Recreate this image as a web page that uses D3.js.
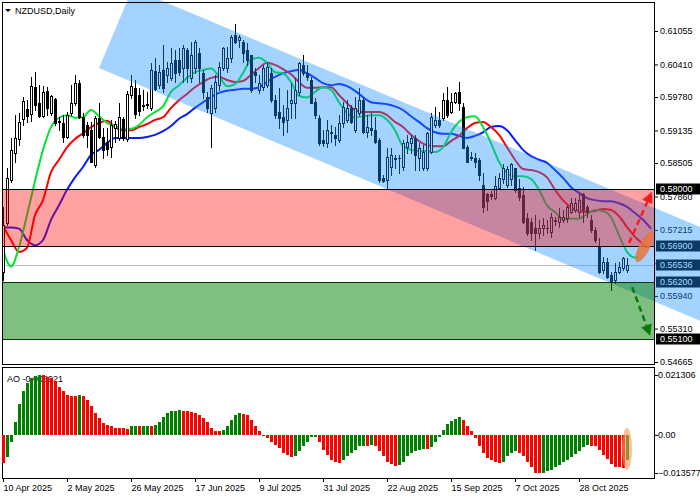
<!DOCTYPE html>
<html>
<head>
<meta charset="utf-8">
<script src="https://cdn.jsdelivr.net/npm/d3@7"></script>
<style>
  body { margin: 0; background: #fff; }
  svg { display: block; }
  text { font-family: "Liberation Sans", Arial, sans-serif; font-size: 9px; }
</style>
</head>
<body>
<svg id="chart" width="700" height="500"></svg>
<script>
// NZDUSD daily candles, 10 Apr 2025 .. mid Nov 2025 (bar index = trading day)
const open = [0.5640,0.5735,0.5818,0.5870,0.5897,0.5936,0.5955,0.5945,0.5997,0.5966,0.5941,0.5990,0.5947,0.5974,0.5932,0.5928,0.5901,0.5947,0.5966,0.6005,
  0.5939,0.5924,0.5914,0.5847,0.5937,0.5901,0.5891,0.5882,0.5918,0.5899,0.5936,0.5897,0.5982,0.5995,0.5982,0.5961,0.5963,0.5957,0.6028,0.6001,
  0.6030,0.6021,0.6015,0.6050,0.6050,0.6034,0.6069,0.6015,0.6034,0.6063,0.6024,0.5978,0.5947,0.5957,0.6001,0.6034,0.6034,0.6053,0.6098,0.6088,
  0.6084,0.6069,0.6059,0.6026,0.5992,0.5997,0.6001,0.6024,0.5972,0.5949,0.5939,0.5934,0.5966,0.5966,0.5988,0.6040,0.6024,0.6011,0.5968,0.5937,
  0.5895,0.5889,0.5908,0.5905,0.5895,0.5928,0.5934,0.5957,0.5914,0.5947,0.5972,0.5910,0.5918,0.5914,0.5895,0.5822,0.5818,0.5843,0.5860,0.5860,
  0.5843,0.5882,0.5889,0.5899,0.5860,0.5841,0.5841,0.5872,0.5924,0.5934,0.5937,0.5972,0.5949,0.5968,0.5988,0.5959,0.5882,0.5862,0.5860,0.5857,
  0.5808,0.5791,0.5791,0.5783,0.5802,0.5820,0.5808,0.5820,0.5841,0.5802,0.5789,0.5745,0.5737,0.5725,0.5716,0.5725,0.5725,0.5718,0.5741,0.5737,
  0.5741,0.5745,0.5756,0.5760,0.5756,0.5791,0.5766,0.5741,0.5721,0.5689,0.5644,0.5660,0.5635,0.5625,0.5641,0.5648,0.5645];
const high = [0.5766,0.5841,0.5899,0.5943,0.5947,0.5978,0.5972,0.6017,0.6026,0.6001,0.5999,0.5997,0.5982,0.5976,0.5939,0.5943,0.5949,0.6001,0.6021,0.6011,
  0.5947,0.5930,0.5930,0.5941,0.5966,0.5918,0.5918,0.5934,0.5932,0.5966,0.5939,0.5990,0.6021,0.6011,0.5995,0.5992,0.5988,0.6044,0.6053,0.6040,
  0.6078,0.6046,0.6072,0.6069,0.6072,0.6078,0.6072,0.6084,0.6088,0.6072,0.6030,0.5988,0.6001,0.6021,0.6046,0.6074,0.6074,0.6098,0.6119,0.6098,
  0.6088,0.6082,0.6059,0.6034,0.6021,0.6040,0.6046,0.6034,0.5982,0.5996,0.5963,0.5992,0.6005,0.6015,0.6046,0.6059,0.6040,0.6017,0.5976,0.5943,
  0.5914,0.5934,0.5924,0.5920,0.5943,0.5968,0.5972,0.5963,0.5978,0.5996,0.5978,0.5943,0.5947,0.5939,0.5899,0.5828,0.5880,0.5880,0.5866,0.5866,
  0.5895,0.5905,0.5905,0.5905,0.5889,0.5885,0.5910,0.5947,0.5959,0.5949,0.5986,0.5997,0.5986,0.5988,0.6007,0.5966,0.5885,0.5872,0.5870,0.5860,
  0.5831,0.5793,0.5797,0.5826,0.5831,0.5849,0.5845,0.5851,0.5841,0.5820,0.5804,0.5754,0.5745,0.5750,0.5741,0.5745,0.5741,0.5754,0.5747,0.5764,
  0.5760,0.5770,0.5783,0.5783,0.5791,0.5793,0.5770,0.5750,0.5727,0.5706,0.5669,0.5667,0.5641,0.5658,0.5660,0.5669,0.5668];
const low = [0.5625,0.5731,0.5814,0.5853,0.5885,0.5924,0.5930,0.5932,0.5953,0.5939,0.5939,0.5943,0.5943,0.5924,0.5914,0.5891,0.5899,0.5943,0.5963,0.5937,
  0.5901,0.5882,0.5853,0.5843,0.5899,0.5860,0.5866,0.5862,0.5891,0.5895,0.5895,0.5893,0.5976,0.5937,0.5943,0.5953,0.5957,0.5953,0.5992,0.5995,
  0.5988,0.6007,0.6011,0.6007,0.6021,0.6007,0.6007,0.6007,0.6024,0.6007,0.5976,0.5949,0.5882,0.5949,0.5992,0.6030,0.6026,0.6046,0.6082,0.6074,
  0.6046,0.6040,0.5988,0.6007,0.5986,0.5992,0.5997,0.5968,0.5937,0.5918,0.5905,0.5910,0.5937,0.5937,0.5982,0.6021,0.6011,0.5966,0.5937,0.5885,
  0.5883,0.5882,0.5891,0.5885,0.5891,0.5920,0.5930,0.5928,0.5910,0.5943,0.5908,0.5901,0.5905,0.5889,0.5814,0.5814,0.5803,0.5828,0.5841,0.5832,
  0.5837,0.5870,0.5870,0.5837,0.5837,0.5837,0.5837,0.5870,0.5920,0.5920,0.5934,0.5939,0.5947,0.5966,0.5953,0.5880,0.5853,0.5857,0.5843,0.5818,
  0.5756,0.5760,0.5781,0.5781,0.5800,0.5812,0.5804,0.5808,0.5795,0.5779,0.5735,0.5712,0.5702,0.5683,0.5706,0.5712,0.5716,0.5708,0.5731,0.5727,
  0.5737,0.5737,0.5754,0.5756,0.5747,0.5737,0.5747,0.5718,0.5698,0.5639,0.5639,0.5629,0.5606,0.5619,0.5639,0.5644,0.5640];
const close = [0.5731,0.5822,0.5876,0.5899,0.5930,0.5970,0.5941,0.5999,0.5963,0.5941,0.5988,0.5957,0.5980,0.5928,0.5930,0.5901,0.5943,0.5966,0.6005,0.5939,
  0.5905,0.5905,0.5853,0.5937,0.5901,0.5876,0.5878,0.5924,0.5926,0.5939,0.5899,0.5984,0.5999,0.5945,0.5951,0.5963,0.5964,0.6030,0.5994,0.6026,
  0.5995,0.6034,0.6044,0.6024,0.6026,0.6072,0.6034,0.6059,0.6084,0.6034,0.5988,0.5957,0.5995,0.6007,0.6036,0.6072,0.6053,0.6094,0.6084,0.6094,
  0.6063,0.6050,0.5992,0.6021,0.6005,0.6034,0.6036,0.5972,0.5943,0.5937,0.5930,0.5957,0.5972,0.5992,0.6044,0.6024,0.6017,0.5966,0.5943,0.5889,
  0.5889,0.5914,0.5910,0.5899,0.5928,0.5959,0.5957,0.5930,0.5957,0.5972,0.5910,0.5920,0.5914,0.5891,0.5818,0.5816,0.5862,0.5866,0.5858,0.5860,
  0.5889,0.5891,0.5899,0.5866,0.5880,0.5872,0.5908,0.5939,0.5934,0.5924,0.5972,0.5943,0.5968,0.5986,0.5966,0.5880,0.5853,0.5860,0.5853,0.5828,
  0.5765,0.5777,0.5787,0.5806,0.5822,0.5841,0.5839,0.5849,0.5799,0.5785,0.5737,0.5716,0.5716,0.5716,0.5725,0.5731,0.5726,0.5747,0.5739,0.5747,
  0.5747,0.5766,0.5773,0.5773,0.5779,0.5760,0.5756,0.5721,0.5702,0.5641,0.5660,0.5631,0.5621,0.5641,0.5650,0.5667,0.56536];

// moving averages as [bar, price]; they run a few bars past the last candle (shifted)
const maFast = [[0,0.5683],[2,0.5651],[4,0.5688],[6,0.5750],[8,0.5816],[10,0.5876],[12,0.5920],[14,0.5938],[16,0.5943],[18,0.5938],[20,0.5939],
  [22,0.5953],[24,0.5941],[26,0.5928],[28,0.5922],[30,0.5917],[32,0.5917],[34,0.5924],[36,0.5939],[38,0.5949],[40,0.5960],[42,0.5988],[44,0.6001],
  [46,0.6015],[48,0.6026],[50,0.6030],[52,0.6033],[54,0.6018],[56,0.5999],[58,0.6003],[60,0.6024],[62,0.6050],[64,0.6054],[66,0.6044],[68,0.6026],
  [70,0.6024],[72,0.6007],[74,0.5980],[76,0.5977],[78,0.5988],[80,0.5997],[82,0.5992],[84,0.5968],[86,0.5947],[88,0.5939],[90,0.5941],[92,0.5943],
  [94,0.5943],[96,0.5934],[98,0.5914],[100,0.5883],[102,0.5876],[104,0.5874],[106,0.5874],[108,0.5872],[110,0.5881],[112,0.5910],[114,0.5930],
  [116,0.5939],[118,0.5941],[120,0.5920],[122,0.5889],[124,0.5853],[126,0.5831],[128,0.5825],[130,0.5825],[132,0.5820],[134,0.5799],[136,0.5769],
  [138,0.5756],[140,0.5743],[142,0.5743],[144,0.5743],[146,0.5752],[148,0.5760],[150,0.5758],[152,0.5746],[154,0.5711],[156,0.5679],[158,0.5668],[159,0.5668]];
const maMid = [[0,0.5729],[2,0.5702],[4,0.5679],[6,0.5687],[8,0.5750],[10,0.5779],[12,0.5833],[14,0.5857],[16,0.5881],[18,0.5897],[20,0.5908],
  [22,0.5920],[24,0.5928],[26,0.5932],[28,0.5920],[30,0.5914],[32,0.5914],[34,0.5920],[36,0.5926],[38,0.5934],[40,0.5939],[42,0.5957],[44,0.5972],
  [46,0.5984],[48,0.5997],[50,0.6007],[52,0.6015],[54,0.6017],[56,0.6011],[58,0.6007],[60,0.6009],[62,0.6021],[64,0.6034],[66,0.6044],[68,0.6040],
  [70,0.6032],[72,0.6022],[74,0.6007],[76,0.5996],[78,0.5996],[80,0.5997],[82,0.5997],[84,0.5982],[86,0.5966],[88,0.5953],[90,0.5949],[92,0.5949],
  [94,0.5949],[96,0.5943],[98,0.5930],[100,0.5920],[102,0.5905],[104,0.5893],[106,0.5885],[108,0.5883],[110,0.5883],[112,0.5893],[114,0.5903],
  [116,0.5918],[118,0.5928],[120,0.5930],[122,0.5920],[124,0.5905],[126,0.5881],[128,0.5857],[130,0.5839],[132,0.5837],[134,0.5833],[136,0.5823],
  [138,0.5799],[140,0.5779],[142,0.5765],[144,0.5758],[146,0.5756],[148,0.5758],[150,0.5762],[152,0.5760],[154,0.5748],[156,0.5727],[158,0.5708],
  [160,0.5694],[161,0.5687]];
const maSlow = [[0,0.5726],[2,0.5726],[4,0.5724],[6,0.5702],[8,0.5692],[10,0.5702],[12,0.5741],[14,0.5769],[16,0.5799],[18,0.5823],[20,0.5843],
  [22,0.5866],[24,0.5876],[26,0.5889],[28,0.5899],[30,0.5899],[32,0.5899],[34,0.5899],[36,0.5901],[38,0.5905],[40,0.5912],[42,0.5922],[44,0.5936],
  [46,0.5945],[48,0.5957],[50,0.5968],[52,0.5978],[54,0.5986],[56,0.5990],[58,0.5992],[60,0.5994],[62,0.5994],[64,0.5997],[66,0.6007],[68,0.6017],
  [70,0.6024],[72,0.6028],[74,0.6030],[76,0.6024],[78,0.6015],[80,0.6005],[82,0.6001],[84,0.6003],[86,0.5999],[88,0.5990],[90,0.5978],[92,0.5968],
  [94,0.5966],[96,0.5964],[98,0.5960],[100,0.5953],[102,0.5941],[104,0.5930],[106,0.5918],[108,0.5910],[110,0.5907],[112,0.5907],[114,0.5903],
  [116,0.5899],[118,0.5903],[120,0.5910],[122,0.5920],[124,0.5922],[126,0.5914],[128,0.5895],[130,0.5876],[132,0.5864],[134,0.5857],[136,0.5851],
  [138,0.5837],[140,0.5822],[142,0.5804],[144,0.5793],[146,0.5783],[148,0.5779],[150,0.5777],[152,0.5777],[154,0.5773],[156,0.5766],[158,0.5754],
  [160,0.5741],[162,0.5724]];

// Awesome Oscillator, one value per bar
const ao = [-0.0101,-0.0079,-0.0024,0.0044,0.0110,0.0156,0.0186,0.0201,0.0208,0.0213,
  0.0212,0.0206,0.0201,0.0193,0.0169,0.0156,0.0142,0.0139,0.0138,0.0142,
  0.0139,0.0124,0.0101,0.0079,0.0059,0.0041,0.0036,0.0033,0.0026,0.0024,
  0.0023,0.0022,0.0032,0.0033,0.0030,0.0031,0.0033,0.0030,0.0036,0.0047,
  0.0063,0.0077,0.0085,0.0086,0.0089,0.0086,0.0085,0.0083,0.0077,0.0071,
  0.0059,0.0047,0.0024,0.0014,0.0012,0.0018,0.0030,0.0053,0.0071,0.0077,
  0.0075,0.0071,0.0053,0.0032,0.0012,-0.0004,-0.0012,-0.0027,-0.0036,-0.0047,
  -0.0063,-0.0073,-0.0080,-0.0077,-0.0059,-0.0039,-0.0024,-0.0009,-0.0006,-0.0027,
  -0.0053,-0.0071,-0.0091,-0.0098,-0.0099,-0.0091,-0.0077,
  -0.0065,-0.0053,-0.0041,-0.0039,-0.0040,-0.0036,-0.0039,-0.0059,-0.0077,-0.0095,
  -0.0103,-0.0110,-0.0109,-0.0095,-0.0077,-0.0065,-0.0059,-0.0053,-0.0051,-0.0052,
  -0.0044,-0.0027,-0.0006,0.0018,0.0039,0.0051,0.0056,0.0062,0.0053,0.0032,
  0.0015,-0.0012,-0.0041,-0.0063,-0.0083,-0.0091,-0.0098,-0.0101,-0.0095,-0.0077,
  -0.0063,-0.0059,-0.0065,-0.0077,-0.0095,-0.0115,-0.0134,-0.01358,-0.0134,-0.0130,
  -0.0124,-0.0115,-0.0107,-0.0098,-0.0089,-0.0079,-0.0069,-0.0056,-0.0044,-0.0036,
  -0.0039,-0.0040,-0.0053,-0.0071,-0.0086,-0.0103,-0.0115,-0.0116,-0.0117,-0.0089];

const dateBars = [0,16,32,48,64,80,96,112,128,144];
const dateLabels = ["10 Apr 2025","2 May 2025","26 May 2025","17 Jun 2025","9 Jul 2025",
  "31 Jul 2025","22 Aug 2025","15 Sep 2025","7 Oct 2025","28 Oct 2025"];
const priceTicks = [0.61055,0.60410,0.59780,0.59135,0.58505,0.57860,0.57215,0.56570,0.55940,0.55310,0.54665];
const aoTicks = [0.021306,0,-0.013577];
const aoLast = -0.008921;
const lastPrice = 0.56536;

// analyst drawings
const resistZone = [0.5690, 0.5800];
const supportZone = [0.5510, 0.5620];
const levelBoxes = [0.5800, 0.5690, lastPrice, 0.5620, 0.5510];
const channelLow = [[24, 0.6034], [162, 0.5586]];   // lower edge of the falling channel
const channelWidth = 0.0181;
const upArrow = [[156.5, 0.5696], [162.2, 0.5795]];
const downArrow = [[157.3, 0.5611], [161.8, 0.5517]];
const markPrice = [160.4, 0.5689];
const markAO = [156, -0.0050];

const svg = d3.select("#chart");
const L = 2, R = 654, T = 2, B = 364, AT = 367, AB = 478;

const x = d3.scaleLinear().domain([0, 156]).range([3, 627]);
const y = d3.scaleLinear().domain([0.54626, 0.61615]).range([B, T]);
const ya = d3.scaleLinear().domain([-0.013577, 0.021306]).range([473, 375]);

const defs = svg.append("defs");
defs.append("clipPath").attr("id", "main").append("rect")
    .attr("x", L).attr("y", T).attr("width", R - L).attr("height", B - T);
defs.append("clipPath").attr("id", "wide").append("rect")
    .attr("x", L).attr("y", 0).attr("width", 700 - L).attr("height", B);
defs.append("clipPath").attr("id", "sub").append("rect")
    .attr("x", L).attr("y", AT).attr("width", R - L).attr("height", AB - AT);

// price axis
const yAxis = svg.append("g")
    .attr("transform", `translate(${R},0)`)
    .call(d3.axisRight(y).tickValues(priceTicks).tickSize(4).tickPadding(2)
      .tickFormat(d3.format(".5f")));
yAxis.select(".domain").remove();
yAxis.selectAll("text").attr("fill", "#000");

const boxes = svg.append("g").selectAll("g").data(levelBoxes).join("g")
    .attr("transform", d => `translate(0,${Math.round(y(d))})`);
boxes.append("rect").attr("x", 656).attr("y", -5.5).attr("width", 44).attr("height", 11).attr("fill", "#000");
boxes.append("text").attr("x", 660).attr("dy", "0.33em").attr("fill", "#fff").text(d3.format(".5f"));

// plot body
const plot = svg.append("g").attr("clip-path", "url(#main)");

plot.append("line")
    .attr("x1", L).attr("x2", R)
    .attr("y1", Math.round(y(lastPrice)) + 0.5).attr("y2", Math.round(y(lastPrice)) + 0.5)
    .attr("stroke", "#c0c0c0");

const maLine = d3.line().x(d => x(d[0])).y(d => y(d[1])).curve(d3.curveMonotoneX);
[[maSlow, "#0a1aff"], [maMid, "#ff0000"], [maFast, "#00e632"]].forEach(([pts, c]) => {
  plot.append("path").attr("d", maLine(pts))
      .attr("fill", "none").attr("stroke", c).attr("stroke-width", 2);
});

const candles = plot.append("g").selectAll("g").data(d3.range(open.length)).join("g");
candles.append("line")
    .attr("x1", i => x(i) + 0.5).attr("x2", i => x(i) + 0.5)
    .attr("y1", i => Math.round(y(high[i]))).attr("y2", i => Math.round(y(low[i])) + 1)
    .attr("stroke", "#000");
candles.append("rect")
    .attr("x", i => x(i) - 0.5).attr("width", 2)
    .attr("y", i => Math.round(y(Math.max(open[i], close[i]))) + 0.5)
    .attr("height", i => Math.max(0.01, Math.round(y(Math.min(open[i], close[i]))) - Math.round(y(Math.max(open[i], close[i])))))
    .attr("fill", i => close[i] >= open[i] ? "#fff" : "#000")
    .attr("stroke", "#000");

// falling channel (drawn over price and the right scale)
const cSlope = (channelLow[1][1] - channelLow[0][1]) / (channelLow[1][0] - channelLow[0][0]);
const p0 = [x(channelLow[0][0]), y(channelLow[0][1])];
const p1 = [x(180), y(channelLow[0][1] + cSlope * (180 - channelLow[0][0]))];
const s = (p1[1] - p0[1]) / (p1[0] - p0[0]);
const vGap = y(0) - y(channelWidth);
const off = [s * vGap / (1 + s * s), -vGap / (1 + s * s)];
svg.append("path")
    .attr("clip-path", "url(#wide)")
    .attr("d", d3.line()([p0, p1, [p1[0] + off[0], p1[1] + off[1]], [p0[0] + off[0], p0[1] + off[1]]]))
    .attr("fill", "rgba(30,144,255,0.4)");

// support / resistance zones
const zones = svg.append("g").attr("clip-path", "url(#main)");
[[resistZone, "rgba(255,0,0,0.37)", "#000"], [supportZone, "rgba(0,128,0,0.5)", "#003c00"]].forEach(([z, f, st]) => {
  zones.append("rect").attr("x", L).attr("width", R - L)
      .attr("y", y(z[1])).attr("height", y(z[0]) - y(z[1])).attr("fill", f);
  z.forEach(v => zones.append("line").attr("x1", L).attr("x2", R)
      .attr("y1", Math.round(y(v)) + 0.5).attr("y2", Math.round(y(v)) + 0.5)
      .attr("stroke", st));
});

// forecast arrows and highlight
function arrow(pts, color) {
  const a = [x(pts[0][0]), y(pts[0][1])], b = [x(pts[1][0]), y(pts[1][1])];
  const ang = Math.atan2(b[1] - a[1], b[0] - a[0]);
  const back = [b[0] - 11 * Math.cos(ang), b[1] - 11 * Math.sin(ang)];
  svg.append("line").attr("x1", a[0]).attr("y1", a[1]).attr("x2", back[0]).attr("y2", back[1])
      .attr("stroke", color).attr("stroke-width", 2.5).attr("stroke-dasharray", "6,4");
  const w = 5.5, nx = -Math.sin(ang), ny = Math.cos(ang);
  svg.append("path").attr("d", d3.line()([b, [back[0] + nx * w, back[1] + ny * w], [back[0] - nx * w, back[1] - ny * w]]) + "Z")
      .attr("fill", color);
}
arrow(upArrow, "#ff1a1a");
arrow(downArrow, "#0a7a0a");

svg.append("ellipse")
    .attr("transform", `translate(${x(markPrice[0])},${y(markPrice[1])}) rotate(-62)`)
    .attr("rx", 17).attr("ry", 5.5).attr("fill", "#e8743a").attr("opacity", 0.85);

// frames
svg.append("rect").attr("x", L + 0.5).attr("y", T + 0.5).attr("width", R - L).attr("height", B - T)
    .attr("fill", "none").attr("stroke", "#000");
svg.append("rect").attr("x", L + 0.5).attr("y", AT + 0.5).attr("width", R - L).attr("height", AB - AT)
    .attr("fill", "none").attr("stroke", "#000");

// title
svg.append("path").attr("d", "M5,9L11,9L8,12Z").attr("fill", "#000");
svg.append("text").attr("x", 15).attr("y", 14).attr("font-size", "9.5px").text("NZDUSD,Daily");

// AO panel
svg.append("text").attr("x", 7).attr("y", 382).attr("font-size", "9.5px").text("AO " + aoLast.toFixed(6));
svg.append("g").attr("clip-path", "url(#sub)").selectAll("rect").data(ao).join("rect")
    .attr("x", (d, i) => x(i) - 1).attr("width", 3)
    .attr("y", d => Math.round(ya(Math.max(0, d))))
    .attr("height", d => Math.max(1, Math.abs(Math.round(ya(d)) - Math.round(ya(0)))))
    .attr("fill", (d, i) => i > 0 && d > ao[i - 1] ? "#008000" : "#ff0000");
svg.append("ellipse")
    .attr("cx", x(markAO[0])).attr("cy", ya(markAO[1]))
    .attr("rx", 5).attr("ry", 21).attr("fill", "#f49a5a").attr("opacity", 0.6);

const aAxis = svg.append("g")
    .attr("transform", `translate(${R},0)`)
    .call(d3.axisRight(ya).tickValues(aoTicks).tickSize(4).tickPadding(0)
      .tickFormat(d => d === 0 ? "0.00" : d3.format(".6f")(d)));
aAxis.select(".domain").remove();
aAxis.selectAll("text").attr("fill", "#000").attr("font-size", "8.8px");

// time axis
const xAxis = svg.append("g")
    .attr("transform", `translate(0,${AB})`)
    .call(d3.axisBottom(x).tickValues(dateBars).tickSize(4).tickPadding(3)
      .tickFormat((d, i) => dateLabels[i]));
xAxis.select(".domain").remove();
xAxis.selectAll("text").attr("text-anchor", "start").attr("fill", "#000");
</script>
</body>
</html>
